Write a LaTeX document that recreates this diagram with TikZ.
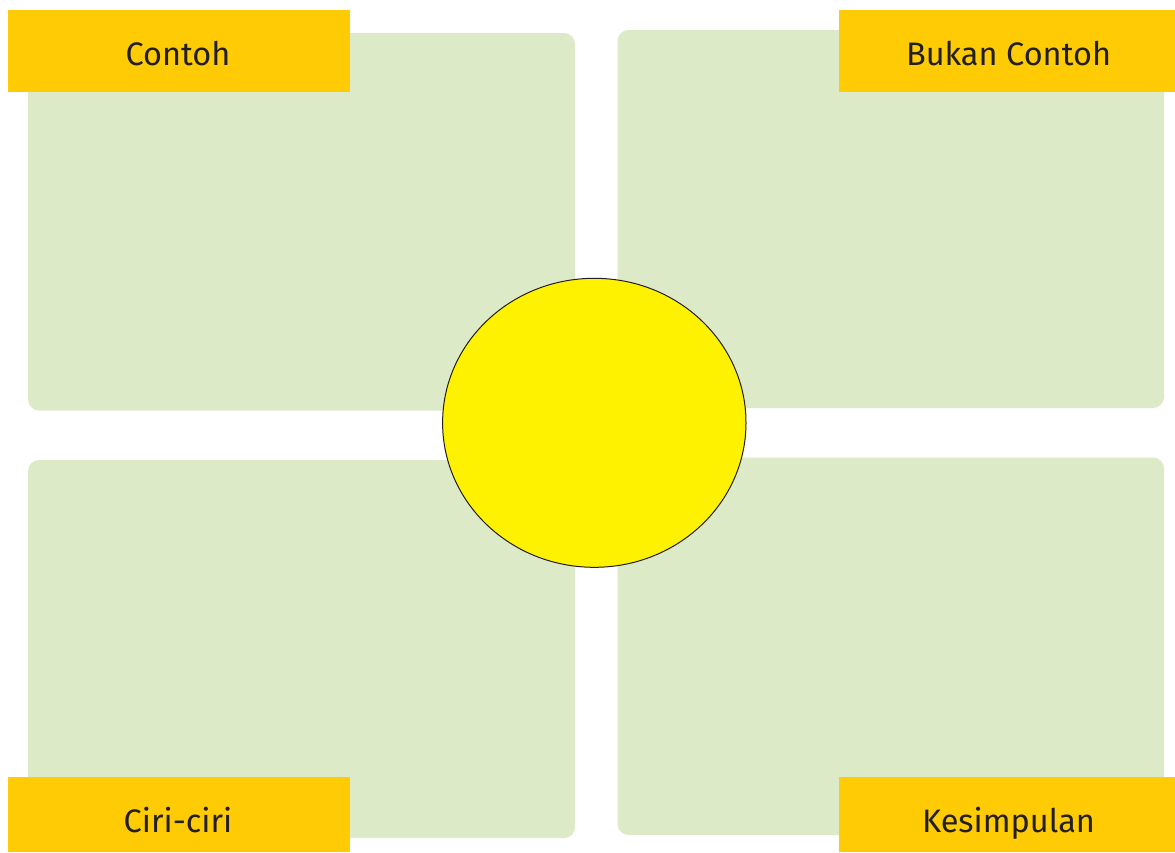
\documentclass[tikz,border=0pt]{standalone}
\usepackage{fontspec}
\setmainfont{Fira Sans}
\definecolor{panel}{HTML}{DDEAC8}
\definecolor{tab}{HTML}{FFCB05}
\definecolor{sun}{HTML}{FFF200}
\definecolor{ink}{HTML}{231F20}
\begin{document}
\begin{tikzpicture}[x=1pt,y=-1pt,
  panelbox/.style={fill=panel,draw=none,rounded corners=11pt},
  tabbox/.style={fill=tab,draw=none},
  tabtext/.style={text=ink,font=\fontsize{32.5}{36}\selectfont,anchor=base,inner sep=0pt}]
\useasboundingbox[fill=white] (0,0) rectangle (1175,852);
% panels
\fill[panelbox] (28,33) rectangle (575,410.5);
\fill[panelbox] (617.5,30) rectangle (1164,408);
\fill[panelbox] (28,460) rectangle (575,838);
\fill[panelbox] (617.5,457.5) rectangle (1164,835);
% tabs
\fill[tabbox] (8,10) rectangle (350,92);
\fill[tabbox] (839,10) rectangle (1175,92);
\fill[tabbox] (8,777) rectangle (350,852);
\fill[tabbox] (839,777) rectangle (1175,852);
\node[tabtext] (contoh) at (178,65.7) {Contoh};
\node[tabtext] (bukan) at (1008.5,65.7) {Bukan Contoh};
\node[tabtext] (ciri) at (178,832.5) {Ciri-ciri};
\node[tabtext] (kesimpulan) at (1008.5,832) {Kesimpulan};
% centre ellipse
\draw[fill=sun,draw=ink,line width=1pt] (594.3,422.8) ellipse [x radius=151.7,y radius=144.5];
\end{tikzpicture}
\end{document}
